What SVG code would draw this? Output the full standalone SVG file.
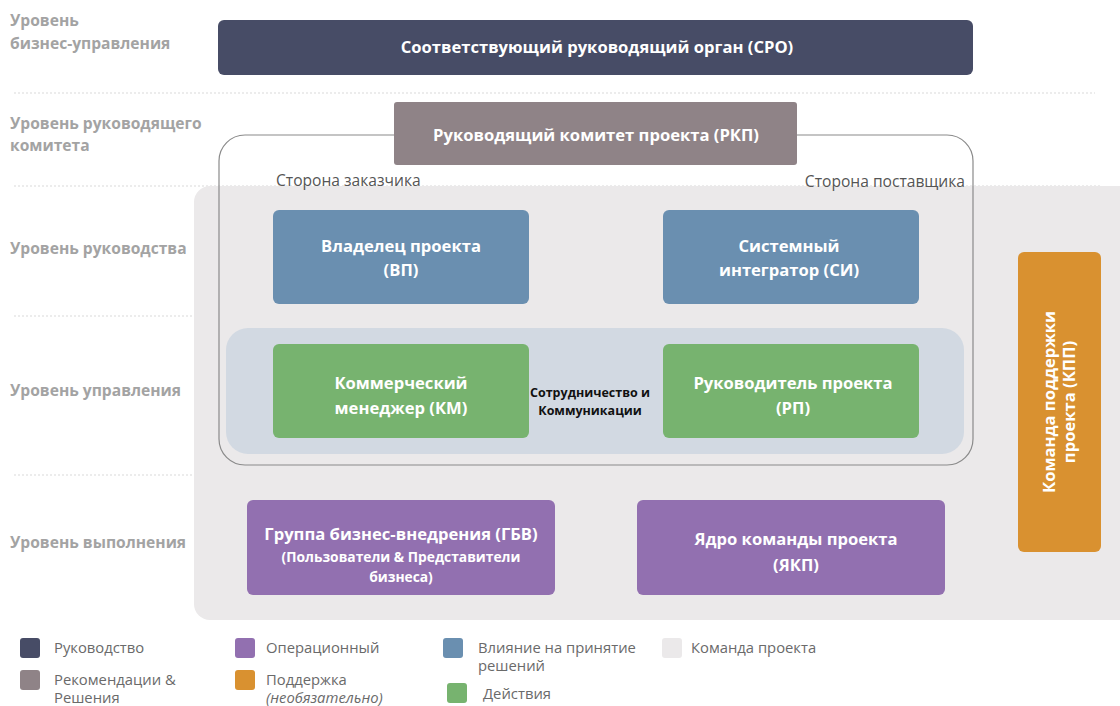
<svg xmlns="http://www.w3.org/2000/svg" width="1120" height="706" viewBox="0 0 1120 706">
<style>
.lvl{font-family:"Open Sans","Liberation Sans",sans-serif;font-weight:bold;font-size:15.6px;fill:#a3a3a3}
.sep{stroke:#e6e6e6;stroke-width:1.5;stroke-dasharray:2 2}
.nt{font-family:"Open Sans","Liberation Sans",sans-serif;font-weight:bold;font-size:16.6px;fill:#fff;text-anchor:middle}
.ns{font-family:"Open Sans","Liberation Sans",sans-serif;font-weight:bold;font-size:13.8px;fill:#fff;text-anchor:middle}
.side{font-family:"Open Sans","Liberation Sans",sans-serif;font-size:15.6px;fill:#555}
.lg{font-family:"Open Sans","Liberation Sans",sans-serif;font-size:14.8px;fill:#6a6a6a}
.ctr{font-family:"Open Sans","Liberation Sans",sans-serif;font-weight:bold;font-size:12.5px;fill:#111;text-anchor:middle}
</style>
<rect width="1120" height="706" fill="#fff"/>
<g id="levels">
<text class="lvl" x="10" y="26">Уровень</text>
<text class="lvl" x="10" y="49">бизнес-управления</text>
<text class="lvl" x="10" y="129">Уровень руководящего</text>
<text class="lvl" x="10" y="151">комитета</text>
<text class="lvl" x="10" y="254">Уровень руководства</text>
<text class="lvl" x="10" y="396">Уровень управления</text>
<text class="lvl" x="10" y="548">Уровень выполнения</text>
<line class="sep" x1="14" y1="93" x2="1095" y2="93"/>
<line class="sep" x1="14" y1="186" x2="1100" y2="186"/>
<line class="sep" x1="14" y1="316" x2="1100" y2="316"/>
<line class="sep" x1="14" y1="475" x2="1100" y2="475"/>
</g>
<g id="team-bg"><rect x="194" y="186" width="940" height="434" rx="16" fill="#ebe9ea"/></g>
<g id="cpo">
<rect x="218" y="20" width="755" height="55" rx="6" fill="#474c66"/>
<text class="nt" x="597" y="53">Соответствующий руководящий орган (СРО)</text>
</g>
<g id="mgmt-band"><rect x="226" y="328" width="738" height="126" rx="22" fill="#d2d9e2"/></g>
<g id="outer-frame"><rect x="219" y="135" width="754" height="330" rx="26" fill="none" stroke="#8a8a8a" stroke-width="1.2"/></g>
<g id="rkp">
<rect x="394" y="102" width="403" height="63" rx="3" fill="#8f8387"/>
<text class="nt" x="596" y="141">Руководящий комитет проекта (РКП)</text>
</g>
<g id="sides">
<text class="side" x="276" y="186">Сторона заказчика</text>
<text class="side" x="965" y="187" text-anchor="end">Сторона поставщика</text>
</g>
<g id="vp">
<rect x="273" y="210" width="256" height="94" rx="6" fill="#6a8fb0"/>
<text class="nt" x="401" y="252">Владелец проекта</text>
<text class="nt" x="401" y="276">(ВП)</text>
</g>
<g id="si">
<rect x="663" y="210" width="256" height="94" rx="6" fill="#6a8fb0"/>
<text class="nt" x="789" y="252">Системный</text>
<text class="nt" x="789" y="276">интегратор (СИ)</text>
</g>
<g id="km">
<rect x="273" y="344" width="256" height="94" rx="6" fill="#77b36f"/>
<text class="nt" x="401" y="389">Коммерческий</text>
<text class="nt" x="401" y="414">менеджер (КМ)</text>
</g>
<g id="rp">
<rect x="663" y="344" width="256" height="94" rx="6" fill="#77b36f"/>
<text class="nt" x="793" y="389">Руководитель проекта</text>
<text class="nt" x="793" y="414">(РП)</text>
</g>
<g id="collab">
<text class="ctr" x="590" y="397">Сотрудничество и</text>
<text class="ctr" x="590" y="415">Коммуникации</text>
</g>
<g id="gbv">
<rect x="247" y="500" width="308" height="95" rx="6" fill="#9270b0"/>
<text class="nt" x="401" y="540">Группа бизнес-внедрения (ГБВ)</text>
<text class="ns" x="401" y="562">(Пользователи &amp; Представители</text>
<text class="ns" x="401" y="582">бизнеса)</text>
</g>
<g id="yakp">
<rect x="637" y="500" width="308" height="95" rx="6" fill="#9270b0"/>
<text class="nt" x="796" y="545">Ядро команды проекта</text>
<text class="nt" x="796" y="571">(ЯКП)</text>
</g>
<g id="kpp">
<rect x="1018" y="252" width="83" height="300" rx="6" fill="#d99130"/>
<g transform="translate(1059 402) rotate(-90)">
<text class="nt" x="0" y="-4">Команда поддержки</text>
<text class="nt" x="0" y="16">проекта  (КПП)</text>
</g>
</g>
<g id="connectors"></g>
<g id="legend">
<rect x="20" y="638" width="20" height="20" rx="3" fill="#474c66"/>
<text class="lg" x="54" y="653">Руководство</text>
<rect x="20" y="670" width="20" height="20" rx="3" fill="#8f8387"/>
<text class="lg" x="54" y="685">Рекомендации &amp;</text>
<text class="lg" x="54" y="703">Решения</text>
<rect x="235" y="638" width="20" height="20" rx="3" fill="#9270b0"/>
<text class="lg" x="266" y="653">Операционный</text>
<rect x="235" y="670" width="20" height="20" rx="3" fill="#d99130"/>
<text class="lg" x="266" y="685">Поддержка</text>
<text class="lg" x="266" y="703" font-style="italic">(необязательно)</text>
<rect x="443" y="638" width="20" height="20" rx="3" fill="#6a8fb0"/>
<text class="lg" x="478" y="653">Влияние на принятие</text>
<text class="lg" x="478" y="671">решений</text>
<rect x="447" y="683" width="20" height="20" rx="3" fill="#77b36f"/>
<text class="lg" x="483" y="699">Действия</text>
<rect x="662" y="638" width="20" height="20" rx="3" fill="#ebe9ea"/>
<text class="lg" x="691" y="653">Команда проекта</text>
</g>
</svg>
